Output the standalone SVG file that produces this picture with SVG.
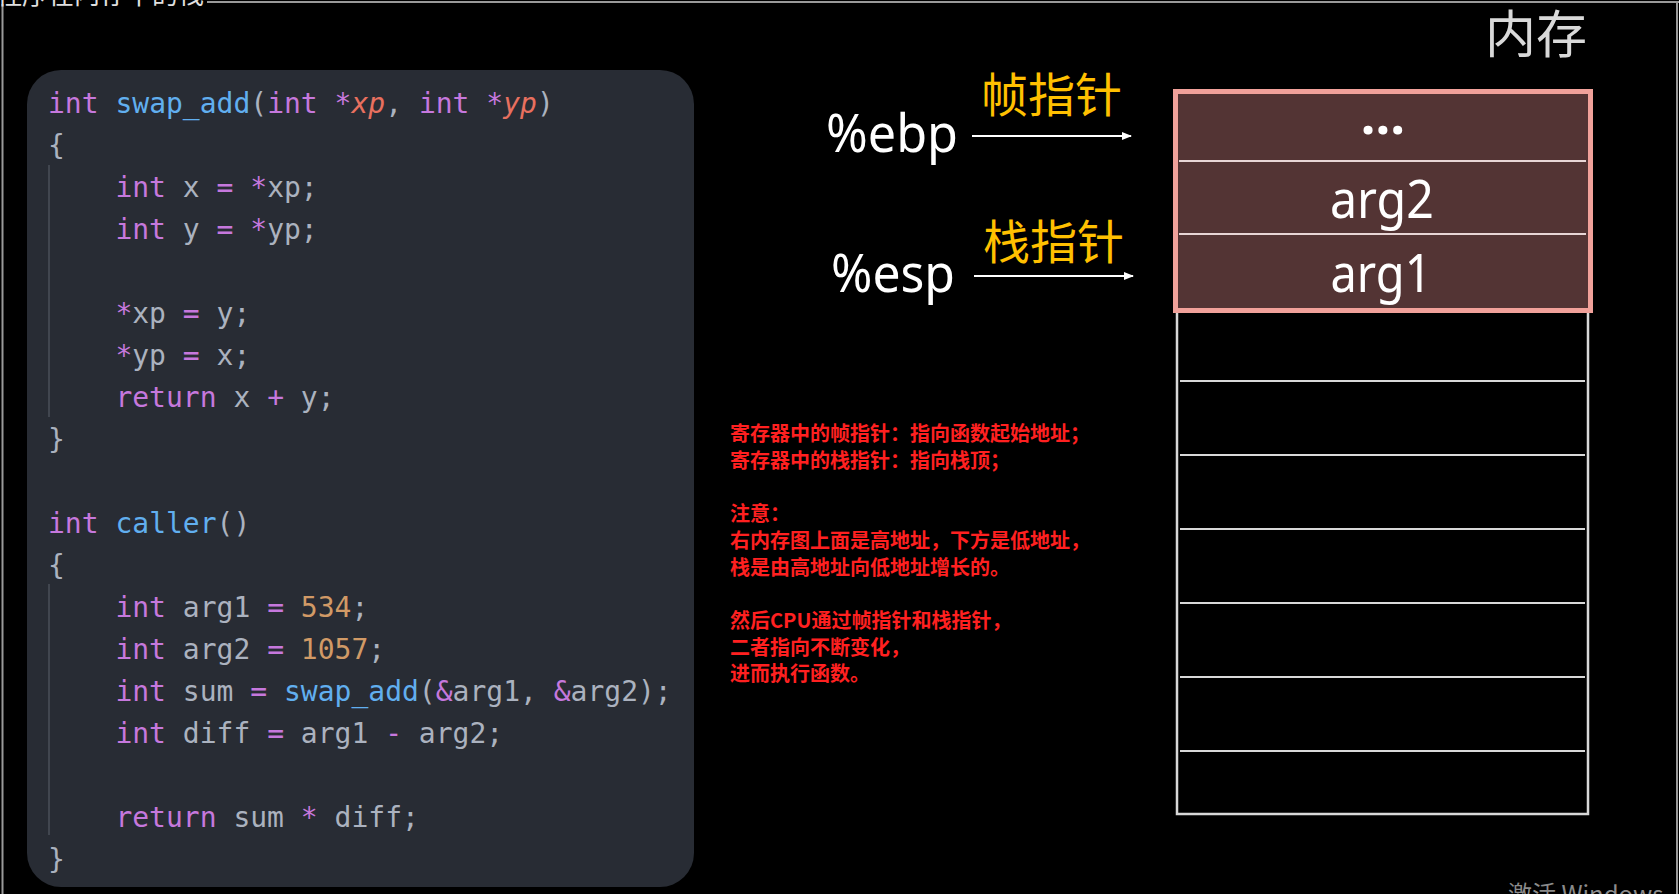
<svg xmlns="http://www.w3.org/2000/svg" width="1679" height="894" viewBox="0 0 1679 894">
<defs>
<style>
.code{font-family:"DejaVu Sans Mono","Liberation Mono",monospace;font-size:28px;fill:#abb2bf}
.k{fill:#c678dd}
.f{fill:#61afef}
.p{fill:#e8705f;font-style:italic}
.n{fill:#d19a66}
.lbl{font-family:"Noto Sans","Liberation Sans",sans-serif;fill:#ffffff;font-size:52px}
.cjk{font-family:"Noto Sans CJK SC",sans-serif}
.note{font-family:"Noto Sans CJK SC",sans-serif;font-size:20px;font-weight:bold;fill:#ff2020}
.guide{stroke:#4a4f59;stroke-width:1.5}
.cell{stroke:#d8d8d8;stroke-width:2}
.arrow{stroke:#ffffff;stroke-width:2;fill:none}
</style>
<marker id="ah" markerWidth="10" markerHeight="10" refX="9" refY="5" orient="auto" markerUnits="userSpaceOnUse">
<path d="M0,1 L10,5 L0,9 Z" fill="#ffffff"/>
</marker>
</defs>
<rect width="1679" height="894" fill="#000000"/>
<g id="frame">
<line x1="207" y1="2" x2="1679" y2="2" stroke="#9a9a9a" stroke-width="2"/>
<line x1="2.5" y1="4" x2="2.5" y2="894" stroke="#9a9a9a" stroke-width="2"/>
<line x1="1677" y1="2" x2="1677" y2="894" stroke="#9a9a9a" stroke-width="2"/>
<text x="-4" y="4" class="cjk" font-size="26" fill="#e0e0e0">程序在内存中的栈</text>
</g>
<g id="code-panel">
<rect x="27" y="70" width="667" height="817" rx="34" fill="#282c34"/>
<line class="guide" x1="49" y1="165" x2="49" y2="417"/>
<line class="guide" x1="49" y1="584" x2="49" y2="835"/>
<g class="code" xml:space="preserve">
<text x="48" y="113"><tspan class="k">int</tspan> <tspan class="f">swap_add</tspan>(<tspan class="k">int</tspan> <tspan class="k">*</tspan><tspan class="p">xp</tspan>, <tspan class="k">int</tspan> <tspan class="k">*</tspan><tspan class="p">yp</tspan>)</text>
<text x="48" y="155">{</text>
<text x="115.4" y="197"><tspan class="k">int</tspan> x <tspan class="k">=</tspan> <tspan class="k">*</tspan>xp;</text>
<text x="115.4" y="239"><tspan class="k">int</tspan> y <tspan class="k">=</tspan> <tspan class="k">*</tspan>yp;</text>
<text x="115.4" y="323"><tspan class="k">*</tspan>xp <tspan class="k">=</tspan> y;</text>
<text x="115.4" y="365"><tspan class="k">*</tspan>yp <tspan class="k">=</tspan> x;</text>
<text x="115.4" y="407"><tspan class="k">return</tspan> x <tspan class="k">+</tspan> y;</text>
<text x="48" y="449">}</text>
<text x="48" y="533"><tspan class="k">int</tspan> <tspan class="f">caller</tspan>()</text>
<text x="48" y="575">{</text>
<text x="115.4" y="617"><tspan class="k">int</tspan> arg1 <tspan class="k">=</tspan> <tspan class="n">534</tspan>;</text>
<text x="115.4" y="659"><tspan class="k">int</tspan> arg2 <tspan class="k">=</tspan> <tspan class="n">1057</tspan>;</text>
<text x="115.4" y="701"><tspan class="k">int</tspan> sum <tspan class="k">=</tspan> <tspan class="f">swap_add</tspan>(<tspan class="k">&amp;</tspan>arg1, <tspan class="k">&amp;</tspan>arg2);</text>
<text x="115.4" y="743"><tspan class="k">int</tspan> diff <tspan class="k">=</tspan> arg1 <tspan class="k">-</tspan> arg2;</text>
<text x="115.4" y="827"><tspan class="k">return</tspan> sum <tspan class="k">*</tspan> diff;</text>
<text x="48" y="869">}</text>
</g>
</g>
<g id="memory-title">
<text x="1485" y="53" class="cjk" font-size="51" fill="#d9d9d9">内存</text>
</g>
<g id="ebp">
<text x="826" y="152" class="lbl" textLength="132" lengthAdjust="spacingAndGlyphs">%ebp</text>
<text x="981" y="112" class="cjk" font-size="47" fill="#ffc000">帧指针</text>
</g>
<g id="esp">
<text x="831" y="292" class="lbl" textLength="124" lengthAdjust="spacingAndGlyphs">%esp</text>
<text x="983" y="259" class="cjk" font-size="47" fill="#ffc000">栈指针</text>
</g>
<g id="connectors">
<line class="arrow" x1="972" y1="136" x2="1131" y2="136" marker-end="url(#ah)"/>
<line class="arrow" x1="974" y1="276" x2="1133" y2="276" marker-end="url(#ah)"/>
</g>
<g id="stack-empty">
<rect x="1177" y="311" width="411" height="503" fill="#000000" stroke="#d8d8d8" stroke-width="2.5"/>
<line class="cell" x1="1180" y1="381" x2="1585" y2="381"/>
<line class="cell" x1="1180" y1="455" x2="1585" y2="455"/>
<line class="cell" x1="1180" y1="529" x2="1585" y2="529"/>
<line class="cell" x1="1180" y1="603" x2="1585" y2="603"/>
<line class="cell" x1="1180" y1="677" x2="1585" y2="677"/>
<line class="cell" x1="1180" y1="751" x2="1585" y2="751"/>
</g>
<g id="stack-frame">
<rect x="1175.5" y="91.5" width="415" height="219" fill="#533434" stroke="#f1a19a" stroke-width="5"/>
<line x1="1179" y1="161" x2="1586" y2="161" stroke="#e8d6d6" stroke-width="2"/>
<line x1="1179" y1="234" x2="1586" y2="234" stroke="#e8d6d6" stroke-width="2"/>
<text x="1383" y="134" class="lbl" font-size="50" font-weight="bold" text-anchor="middle">…</text>
<text x="1382" y="218" class="lbl" text-anchor="middle" textLength="104" lengthAdjust="spacingAndGlyphs">arg2</text>
<text x="1381" y="292" class="lbl" text-anchor="middle" textLength="101" lengthAdjust="spacingAndGlyphs">arg1</text>
</g>
<g id="notes">
<text class="note" x="730" y="441">寄存器中的帧指针：指向函数起始地址；</text>
<text class="note" x="730" y="468">寄存器中的栈指针：指向栈顶；</text>
<text class="note" x="730" y="521">注意：</text>
<text class="note" x="730" y="548">右内存图上面是高地址，下方是低地址，</text>
<text class="note" x="730" y="575">栈是由高地址向低地址增长的。</text>
<text class="note" x="730" y="628">然后CPU通过帧指针和栈指针，</text>
<text class="note" x="730" y="655">二者指向不断变化，</text>
<text class="note" x="730" y="681">进而执行函数。</text>
</g>
<g id="watermark">
<text x="1508" y="903" class="cjk" font-size="24" fill="#8a8a8a">激活 Windows</text>
</g>
</svg>
